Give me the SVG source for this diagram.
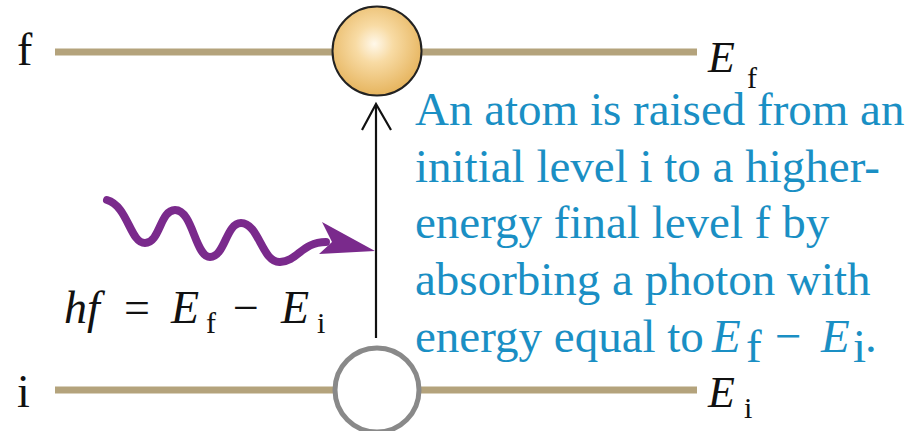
<svg xmlns="http://www.w3.org/2000/svg" width="922" height="431" viewBox="0 0 922 431">
<style>
.lvl{stroke:#b4a37c;stroke-width:7;fill:none}
.t{font-family:"Liberation Serif","Times New Roman",serif;fill:#111}
.it{font-style:italic}
.sub{font-size:30px}
.blue{font-family:"Liberation Serif","Times New Roman",serif;fill:#1a8fc4;font-size:47px}
</style>
<defs>
<radialGradient id="gold" cx="0.47" cy="0.42" r="0.6">
<stop offset="0" stop-color="#fff8ea"/>
<stop offset="0.35" stop-color="#f8dba4"/>
<stop offset="1" stop-color="#e5b25a"/>
</radialGradient>
</defs>
<rect width="922" height="431" fill="#fff"/>
<g id="level-f">
<line class="lvl" x1="55" y1="52" x2="697" y2="52"/>
<text class="t" x="17" y="65" font-size="46">f</text>
<text class="t it" x="708" y="72" font-size="44">E</text>
<text class="t sub" x="747" y="88">f</text>
</g>
<g id="level-i">
<line class="lvl" x1="55" y1="390" x2="697" y2="390"/>
<text class="t" x="17" y="407" font-size="46">i</text>
<text class="t it" x="708" y="407" font-size="44">E</text>
<text class="t sub" x="744" y="418">i</text>
</g>
<g id="connectors">
<line x1="376" y1="338" x2="376" y2="105" stroke="#111" stroke-width="2.2"/>
<polyline points="362,130 376,104 391,130" fill="none" stroke="#111" stroke-width="2.2"/>
<path d="M107,200 C128,206 130,243 145,243 C160,243 160,210 175,210 C193,210 195,257 210,257 C225,257 226,223 241,223 C259,223 262,263 280,262 C298,261 302,242 326,242" fill="none" stroke="#7a2a8c" stroke-width="8" stroke-linecap="round"/>
<polygon points="375,251 322,222 332,242 319,254" fill="#7a2a8c"/>
</g>
<g id="atom-f">
<circle cx="377" cy="51" r="44.5" fill="url(#gold)" stroke="#222" stroke-width="2"/>
</g>
<g id="atom-i">
<circle cx="377" cy="390" r="42" fill="#fff" stroke="#898989" stroke-width="5"/>
</g>
<g id="formula" class="t" font-size="46">
<text class="it" x="64" y="323">hf</text>
<text x="124" y="323">=</text>
<text class="it" x="171" y="323">E</text>
<text class="sub" x="206" y="333">f</text>
<text x="233" y="323">−</text>
<text class="it" x="281" y="323">E</text>
<text class="sub" x="317" y="333">i</text>
</g>
<g id="caption">
<text class="blue" x="415" y="125">An atom is raised from an</text>
<text class="blue" x="415" y="182">initial level i to a higher-</text>
<text class="blue" x="415" y="238">energy final level f by</text>
<text class="blue" x="415" y="295">absorbing a photon with</text>
<text class="blue" x="415" y="352">energy equal to</text>
<text class="blue" x="712" y="352" font-style="italic">E</text>
<text class="blue" x="746" y="362" font-size="30">f</text>
<text class="blue" x="775" y="352">−</text>
<text class="blue" x="821" y="352" font-style="italic">E</text>
<text class="blue" x="853" y="362" font-size="30">i</text>
<text class="blue" x="865" y="352">.</text>
</g>
</svg>
